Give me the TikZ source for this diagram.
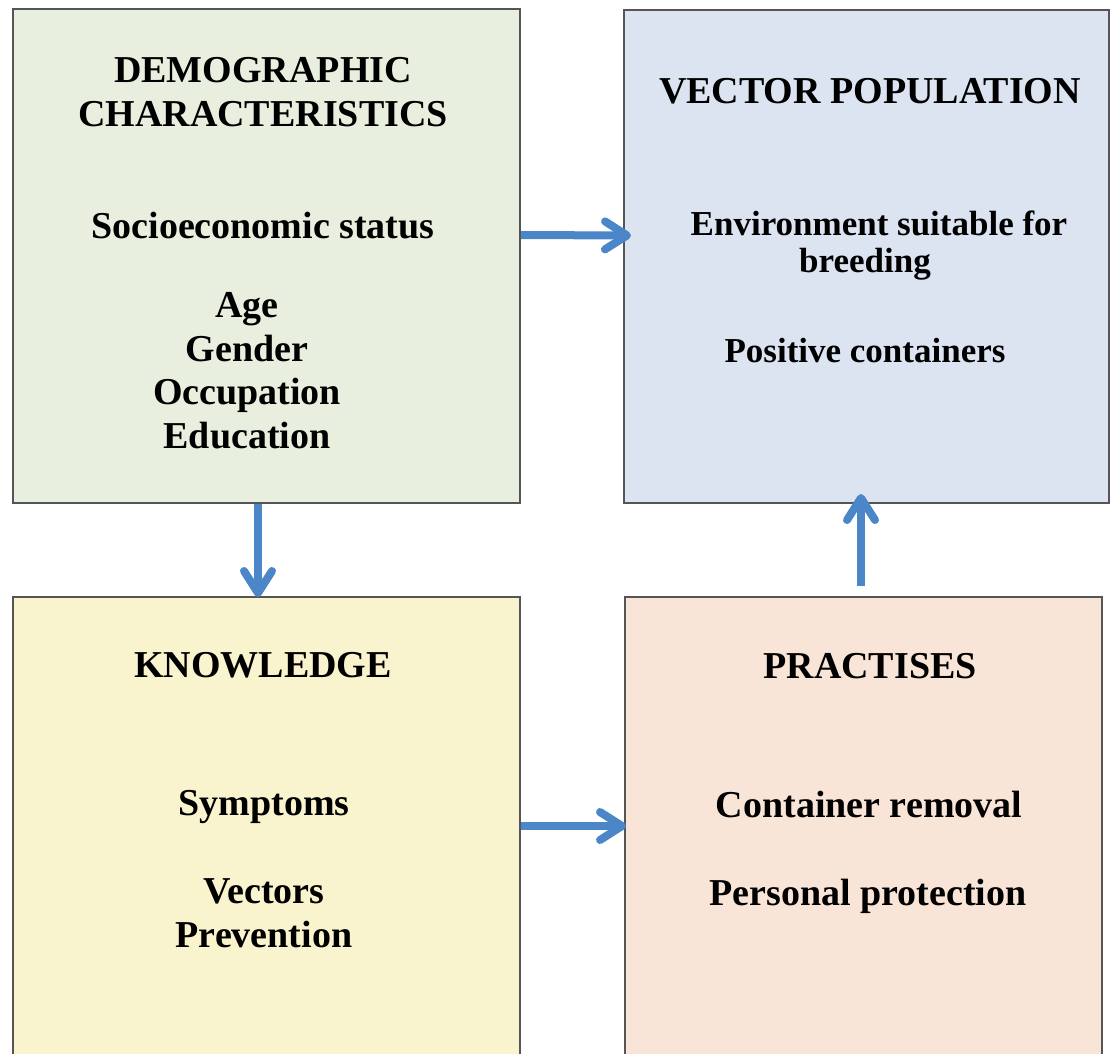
\documentclass[tikz,border=0pt]{standalone}
\usepackage{fontspec}
\setmainfont{Liberation Serif}
\usetikzlibrary{
  arrows.meta,
  positioning
}
\definecolor{demogreen}{RGB}{232,239,222}
\definecolor{vecblue}{RGB}{219,228,240}
\definecolor{knowyellow}{RGB}{249,243,206}
\definecolor{practpeach}{RGB}{248,229,215}
\definecolor{flowblue}{RGB}{75,135,200}
\definecolor{edgegray}{RGB}{85,85,85}
\newcommand{\boxfont}{\fontsize{38}{44}\selectfont\bfseries}
\newcommand{\smallboxfont}{\fontsize{35}{37}\selectfont\bfseries}

\begin{document}
\begin{tikzpicture}[x=1pt, y=-1pt,
    every node/.style={font=\boxfont, align=center, anchor=base, inner sep=0pt},
    panel/.style={draw=edgegray, line width=2pt, anchor=center},
    flow/.style={draw=flowblue, line width=8pt,
      -{Straight Barb[length=22pt, width=28pt, round]}}]
  \useasboundingbox (0,0) rectangle (1115,1053);
  \clip (0,0) rectangle (1115,1053);

  % Panels
  \node[panel, fill=demogreen, minimum width=507pt, minimum height=494pt] (demo) at (266.5,256) {};
  \node[panel, fill=vecblue, minimum width=485pt, minimum height=493pt] (vector) at (866.5,256.5) {};
  \node[panel, fill=knowyellow, minimum width=507pt, minimum height=478pt] (know) at (266.5,836) {};
  \node[panel, fill=practpeach, minimum width=477pt, minimum height=478pt] (pract) at (863.5,836) {};

  % Demographic characteristics (base = last line)
  \node (demotitle) at (263,126) {DEMOGRAPHIC\\CHARACTERISTICS};
  \node (socio) at (263,238) {Socioeconomic status};
  \node[font=\fontsize{38}{43.5}\selectfont\bfseries] (demolist) at (247,448) {Age\\Gender\\Occupation\\Education};

  % Vector population
  \node (vectitle) at (870,103) {VECTOR POPULATION};
  \node[font=\smallboxfont] (env) at (879,235) {Environment suitable for};
  \node[font=\smallboxfont] (breed) at (865,272) {breeding};
  \node[font=\smallboxfont] (contain) at (865,362) {Positive containers};

  % Knowledge
  \node (knowtitle) at (263,677) {KNOWLEDGE};
  \node (symptoms) at (264,815) {Symptoms};
  \node (knowlist) at (264,947) {Vectors\\Prevention};

  % Practises
  \node (practtitle) at (870,678) {PRACTISES};
  \node (removal) at (869,817) {Container removal};
  \node (protect) at (868,905) {Personal protection};

  % Arrows between panels
  \draw[flow] ([yshift=21pt]demo.east) -- ([yshift=21pt, xshift=8pt]vector.west);
  \draw[flow] ([xshift=-8.5pt]demo.south) -- ([xshift=-8.5pt, yshift=-1pt]know.north);
  \draw[flow] ([yshift=10pt]know.east) -- ([yshift=10pt, xshift=2pt]pract.west);
  \draw[flow] ([xshift=-2.5pt, yshift=10pt]pract.north) -- ([xshift=-5.5pt, yshift=10pt]vector.south);
\end{tikzpicture}
\end{document}
